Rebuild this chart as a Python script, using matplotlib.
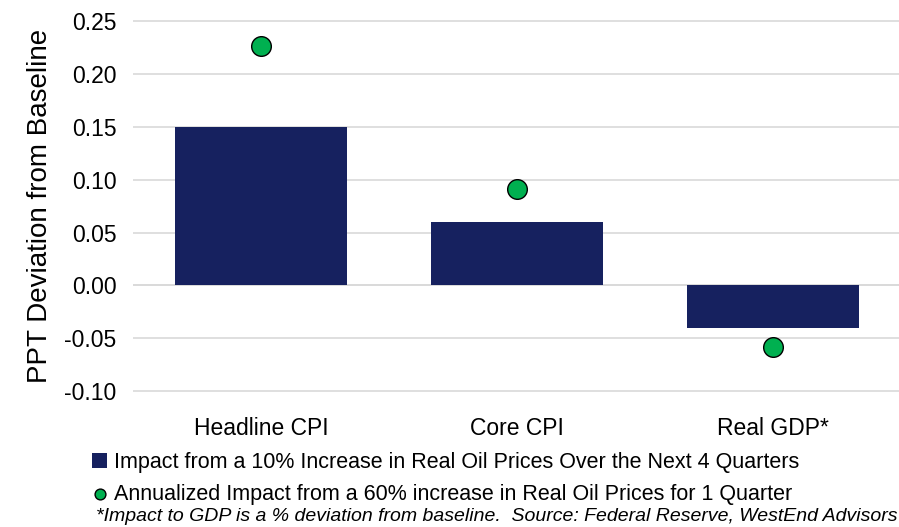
import matplotlib
matplotlib.use('Agg')
import matplotlib.pyplot as plt
import numpy as np

categories = ['Headline CPI', 'Core CPI', 'Real GDP*']
impact_4q = [0.15, 0.06, -0.04]
impact_1q = [0.226, 0.091, -0.058]
yticks = [-0.10, -0.05, 0.00, 0.05, 0.10, 0.15, 0.20, 0.25]

plt.rcParams['font.family'] = ['Liberation Sans', 'DejaVu Sans']

fig = plt.figure(figsize=(8.99, 5.27), dpi=100)
ax = fig.add_axes([0.148, 0.256, 0.854, 0.706])

x = np.arange(len(categories))
bars = ax.bar(x, impact_4q, width=0.67, color='#16215f', zorder=2,
              label='Impact from a 10% Increase in Real Oil Prices Over the Next 4 Quarters')
dots = ax.scatter(x, impact_1q, s=200, color='#00b050', edgecolor='black', linewidth=1.0, zorder=3,
                  label='Annualized Impact from a 60% increase in Real Oil Prices for 1 Quarter')

ax.set_xlim(-0.5, 2.5)
ax.set_ylim(-0.1008, 0.2508)
ax.set_yticks(yticks)
ax.set_yticklabels(['%.2f' % v for v in yticks], fontsize=16.5)
ax.set_xticks(x)
ax.set_xticklabels(categories, fontsize=16.5)
ax.tick_params(axis='y', length=0, pad=12)
ax.tick_params(axis='x', length=0, pad=18)
ax.grid(axis='y', color='#d9d9d9', linewidth=1.2, zorder=0)
ax.set_axisbelow(True)
for s in ax.spines.values():
    s.set_visible(False)
ax.axhline(0, color='#d9d9d9', linewidth=1.2, zorder=1)
ax.set_ylabel('PPT Deviation from Baseline', fontsize=20, labelpad=8)

leg = fig.legend(handles=[bars, dots], loc='upper left', bbox_to_anchor=(0.093, 0.158),
                 frameon=False, fontsize=15.5, handlelength=0.7, handletextpad=0.3,
                 labelspacing=0.5, borderaxespad=0, markerscale=0.55)

fig.text(0.107, 0.012, '*Impact to GDP is a % deviation from baseline.  Source: Federal Reserve, WestEnd Advisors',
         fontsize=14, style='italic')

fig.savefig('out.png', dpi=100)
